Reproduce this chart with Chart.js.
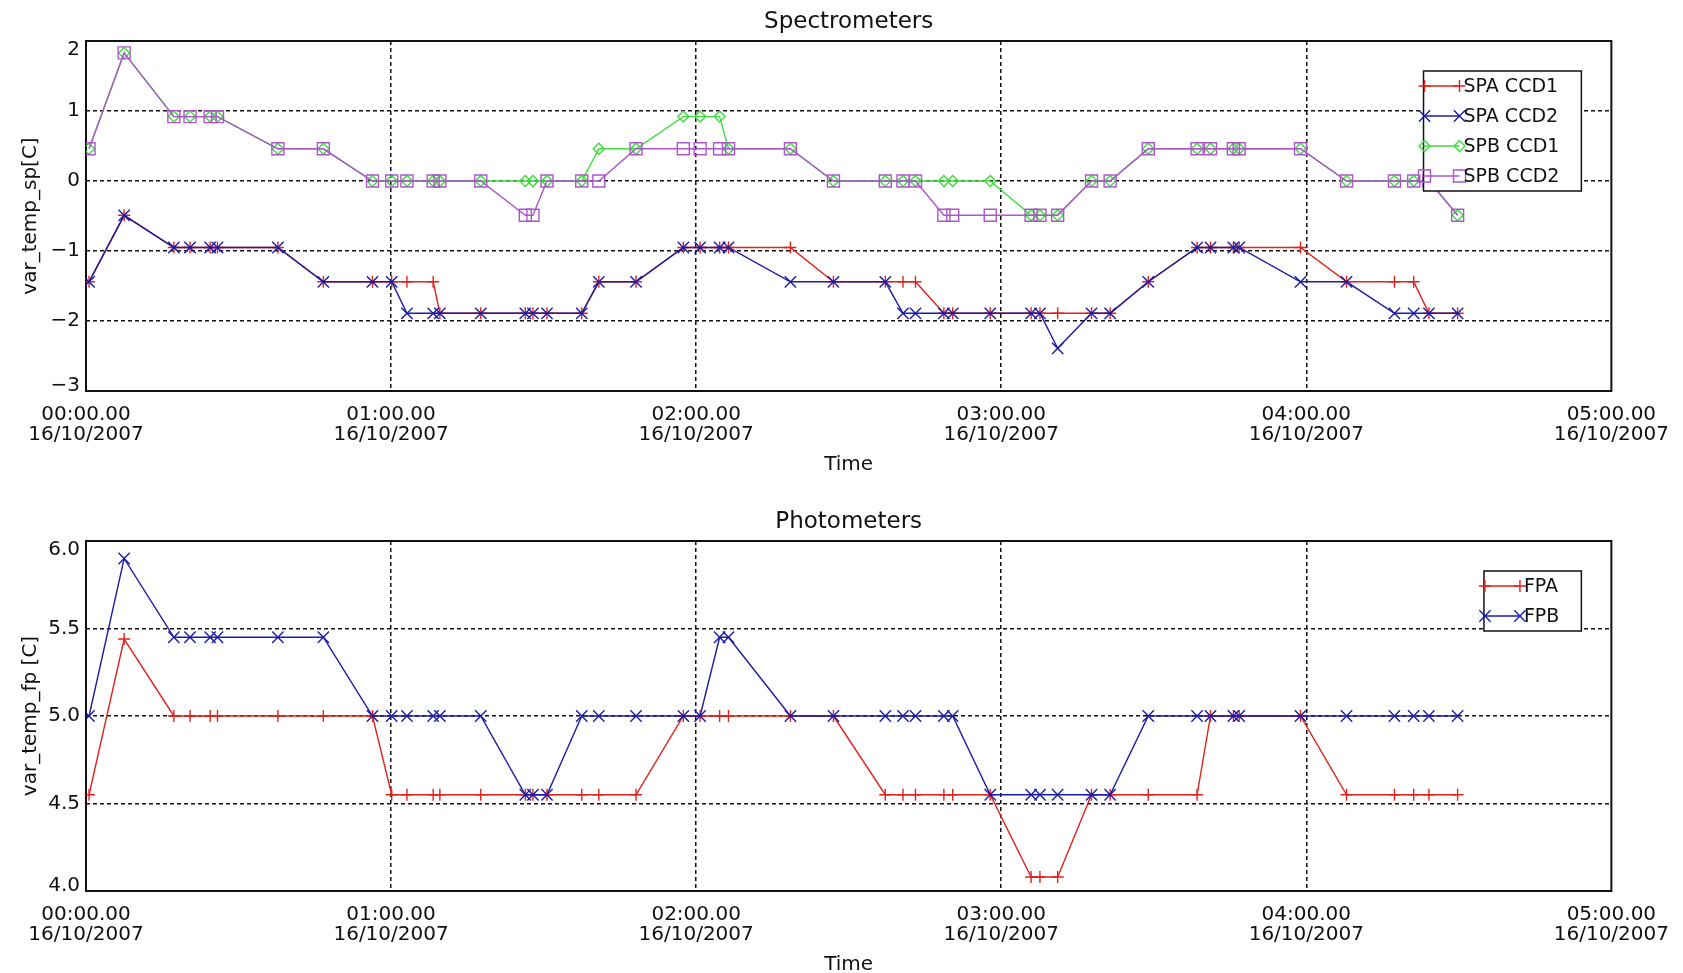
<!DOCTYPE html>
<html>
<head>
<meta charset="utf-8">
<title>Spectrometers / Photometers</title>
<script src="https://cdn.jsdelivr.net/npm/chart.js@4.4.1/dist/chart.umd.min.js"></script>
<style>
  html, body { margin: 0; padding: 0; background: #fff; overflow: hidden; }
  canvas { display: block; }
</style>
</head>
<body>
<canvas id="spChart" width="1683" height="500"></canvas>
<canvas id="fpChart" width="1683" height="500"></canvas>
<script>
// ---------- Data ---------- //
// sample times, hours after 00:00 on 16/10/2007 (shared by every series)
const times = [
  0.01, 0.125, 0.288, 0.341, 0.407, 0.431, 0.629, 0.778, 0.939, 1.002,
  1.052, 1.138, 1.16, 1.294, 1.44, 1.465, 1.511, 1.625, 1.681, 1.803,
  1.958, 2.013, 2.077, 2.106, 2.309, 2.45, 2.62, 2.678, 2.719, 2.812,
  2.841, 2.964, 3.098, 3.127, 3.185, 3.296, 3.357, 3.482, 3.642, 3.686,
  3.761, 3.78, 3.981, 4.132, 4.289, 4.352, 4.402, 4.496
];

// Spectrometers
const spaCcd1 = [
  -1.44, -0.49, -0.95, -0.95, -0.95, -0.95, -0.95, -1.44, -1.44, -1.44,
  -1.44, -1.44, -1.89, -1.89, -1.89, -1.89, -1.89, -1.89, -1.44, -1.44,
  -0.95, -0.95, -0.95, -0.95, -0.95, -1.44, -1.44, -1.44, -1.44, -1.89,
  -1.89, -1.89, -1.89, -1.89, -1.89, -1.89, -1.89, -1.44, -0.95, -0.95,
  -0.95, -0.95, -0.95, -1.44, -1.44, -1.44, -1.89, -1.89
];
const spaCcd2 = [
  -1.44, -0.49, -0.95, -0.95, -0.95, -0.95, -0.95, -1.44, -1.44, -1.44,
  -1.89, -1.89, -1.89, -1.89, -1.89, -1.89, -1.89, -1.89, -1.44, -1.44,
  -0.95, -0.95, -0.95, -0.95, -1.44, -1.44, -1.44, -1.89, -1.89, -1.89,
  -1.89, -1.89, -1.89, -1.89, -2.39, -1.89, -1.89, -1.44, -0.95, -0.95,
  -0.95, -0.95, -1.44, -1.44, -1.89, -1.89, -1.89, -1.89
];
const spbCcd1 = [
  0.46, 1.83, 0.92, 0.92, 0.92, 0.92, 0.46, 0.46, 0, 0,
  0, 0, 0, 0, 0, 0, 0, 0, 0.46, 0.46,
  0.92, 0.92, 0.92, 0.46, 0.46, 0, 0, 0, 0, 0,
  0, 0, -0.49, -0.49, -0.49, 0, 0, 0.46, 0.46, 0.46,
  0.46, 0.46, 0.46, 0, 0, 0, 0, -0.49
];
const spbCcd2 = [
  0.46, 1.83, 0.92, 0.92, 0.92, 0.92, 0.46, 0.46, 0, 0,
  0, 0, 0, 0, -0.49, -0.49, 0, 0, 0, 0.46,
  0.46, 0.46, 0.46, 0.46, 0.46, 0, 0, 0, 0, -0.49,
  -0.49, -0.49, -0.49, -0.49, -0.49, 0, 0, 0.46, 0.46, 0.46,
  0.46, 0.46, 0.46, 0, 0, 0, 0, -0.49
];

// Photometers
const fpa = [
  4.55, 5.44, 5.0, 5.0, 5.0, 5.0, 5.0, 5.0, 5.0, 4.55,
  4.55, 4.55, 4.55, 4.55, 4.55, 4.55, 4.55, 4.55, 4.55, 4.55,
  5.0, 5.0, 5.0, 5.0, 5.0, 5.0, 4.55, 4.55, 4.55, 4.55,
  4.55, 4.55, 4.08, 4.08, 4.08, 4.55, 4.55, 4.55, 4.55, 5.0,
  5.0, 5.0, 5.0, 4.55, 4.55, 4.55, 4.55, 4.55
];
const fpb = [
  5.0, 5.9, 5.45, 5.45, 5.45, 5.45, 5.45, 5.45, 5.0, 5.0,
  5.0, 5.0, 5.0, 5.0, 4.55, 4.55, 4.55, 5.0, 5.0, 5.0,
  5.0, 5.0, 5.45, 5.45, 5.0, 5.0, 5.0, 5.0, 5.0, 5.0,
  5.0, 4.55, 4.55, 4.55, 4.55, 4.55, 4.55, 5.0, 5.0, 5.0,
  5.0, 5.0, 5.0, 5.0, 5.0, 5.0, 5.0, 5.0
];

// axis ticks
const xTicks = [0, 1, 2, 3, 4, 5];
const xTickLabels = ["00:00.00", "01:00.00", "02:00.00", "03:00.00", "04:00.00", "05:00.00"];
const xDateLabel = "16/10/2007";
const spTicks = [-3, -2, -1, 0, 1, 2];
const fpTicks = [4.0, 4.5, 5.0, 5.5, 6.0];

// ---------- Styling ---------- //
const FONT = '"DejaVu Sans", "Liberation Sans", sans-serif';
const INK = "#111";
const RED = "#e0221d";
const BLUE = "#1c1ca4";
const GREEN = "#3edc3e";
const PURPLE = "#ad56ca";

const spSeries = [
  { label: "SPA CCD1", values: spaCcd1, color: RED, style: "cross", radius: 6 },
  { label: "SPA CCD2", values: spaCcd2, color: BLUE, style: "crossRot", radius: 8 },
  { label: "SPB CCD1", values: spbCcd1, color: GREEN, style: "rectRot", radius: 5.5 },
  { label: "SPB CCD2", values: spbCcd2, color: PURPLE, style: "rect", radius: 8.5 }
];
const fpSeries = [
  { label: "FPA", values: fpa, color: RED, style: "cross", radius: 6 },
  { label: "FPB", values: fpb, color: BLUE, style: "crossRot", radius: 8 }
];

function markerAt(ctx, s, x, y) {
  ctx.save();
  ctx.strokeStyle = s.color;
  ctx.fillStyle = "rgba(0,0,0,0)";
  ctx.lineWidth = 1.4;
  Chart.helpers.drawPoint(ctx, { pointStyle: s.style, radius: s.radius, borderWidth: 1.4, rotation: 0 }, x, y);
  ctx.restore();
}

// box round the plot area, end labels of the y axis pulled inside, and legend
function makeFramePlugin(series, yTicks, yLabel) {
  return {
    id: "frame",
    beforeDatasetsDraw(chart) {
      const { ctx, chartArea: a } = chart;
      ctx.save();
      ctx.strokeStyle = INK;
      ctx.lineWidth = 2;
      ctx.strokeRect(a.left, a.top, a.right - a.left, a.bottom - a.top);

      // first and last y labels sit a little inside the frame, like the original
      const yScale = chart.scales.y;
      ctx.font = "20px " + FONT;
      ctx.fillStyle = INK;
      ctx.textAlign = "right";
      ctx.textBaseline = "middle";
      const first = yTicks[0], last = yTicks[yTicks.length - 1];
      ctx.fillText(yLabel(first), a.left - 6, yScale.getPixelForValue(first) - 5);
      ctx.fillText(yLabel(last), a.left - 6, yScale.getPixelForValue(last) + 9);
      ctx.restore();
    },
    afterDatasetsDraw(chart) {
      const { ctx, chartArea: a } = chart;
      const sampleLen = 36, gap = 4, padRight = 22, rowH = 30;
      ctx.save();
      ctx.font = "19px " + FONT;
      const textW = Math.max(...series.map(s => ctx.measureText(s.label).width));
      const boxW = sampleLen + gap + textW + padRight;
      const boxH = rowH * series.length;
      const right = a.right - 30;
      const top = a.top + 30;
      const left = right - boxW;
      ctx.fillStyle = "#fff";
      ctx.fillRect(left, top, boxW, boxH);
      ctx.strokeStyle = INK;
      ctx.lineWidth = 1.5;
      ctx.strokeRect(left, top, boxW, boxH);

      series.forEach((s, i) => {
        const y = top + 15 + i * rowH;
        ctx.strokeStyle = s.color;
        ctx.lineWidth = 1.4;
        ctx.beginPath();
        ctx.moveTo(left, y);
        ctx.lineTo(left + sampleLen, y);
        ctx.stroke();
        markerAt(ctx, s, left + 1, y);
        markerAt(ctx, s, left + sampleLen, y);
        ctx.fillStyle = INK;
        ctx.textBaseline = "middle";
        ctx.textAlign = "left";
        ctx.fillText(s.label, left + sampleLen + gap, y + 1);
      });
      ctx.restore();
    }
  };
}

function buildChart(canvasId, title, yTitle, yTicks, yLabel, series) {
  const yMin = yTicks[0];
  const yMax = yTicks[yTicks.length - 1];
  const n = series.length;

  // no grid line on the frame itself
  const isEdgeX = v => v === xTicks[0] || v === xTicks[xTicks.length - 1];
  const isEdgeY = v => v === yMin || v === yMax;
  const gridColorX = c => isEdgeX(c.tick.value) ? "rgba(0,0,0,0)" : INK;
  const gridColorY = c => isEdgeY(c.tick.value) ? "rgba(0,0,0,0)" : INK;

  return new Chart(document.getElementById(canvasId), {
    type: "line",
    data: {
      datasets: series.map((s, i) => ({
        label: s.label,
        data: times.map((t, k) => ({ x: t, y: s.values[k] })),
        borderColor: s.color,
        borderWidth: 1.4,
        pointStyle: s.style,
        pointRadius: s.radius,
        pointHoverRadius: s.radius,
        pointBorderColor: s.color,
        pointBackgroundColor: "rgba(0,0,0,0)",
        pointBorderWidth: 1.4,
        tension: 0,
        order: n - 1 - i   // later series drawn on top, as in the original
      }))
    },
    options: {
      responsive: false,
      animation: false,
      events: [],
      layout: { padding: { left: 0, right: 66, top: 0, bottom: 0 } },
      plugins: {
        legend: { display: false },
        tooltip: { enabled: false },
        title: {
          display: true,
          text: title,
          fullSize: false,
          color: INK,
          font: { family: FONT, size: 23, weight: "normal", lineHeight: 1.2 },
          padding: { top: 8, bottom: 5.4 }
        }
      },
      scales: {
        x: {
          type: "linear",
          min: xTicks[0],
          max: xTicks[xTicks.length - 1],
          afterBuildTicks: sc => { sc.ticks = xTicks.map(v => ({ value: v })); },
          afterFit: sc => { sc.height = 109; },
          grid: { color: gridColorX, lineWidth: 1.5, drawTicks: false },
          border: { display: false, dash: [4, 3] },
          ticks: {
            color: INK,
            font: { family: FONT, size: 20, lineHeight: 1.0 },
            padding: 14,
            maxRotation: 0,
            autoSkip: false,
            callback: v => [xTickLabels[xTicks.indexOf(v)], xDateLabel]
          },
          title: {
            display: true,
            text: "Time",
            color: INK,
            font: { family: FONT, size: 20, lineHeight: 1.2 },
            padding: { top: 0, bottom: 23 }
          }
        },
        y: {
          min: yMin,
          max: yMax,
          afterBuildTicks: sc => { sc.ticks = yTicks.map(v => ({ value: v })); },
          afterFit: sc => { sc.width = 86; },
          grid: { color: gridColorY, lineWidth: 1.5, drawTicks: false },
          border: { display: false, dash: [4, 3] },
          ticks: {
            color: c => isEdgeY(c.tick.value) ? "rgba(0,0,0,0)" : INK,
            font: { family: FONT, size: 20 },
            padding: 6,
            callback: yLabel
          },
          title: {
            display: true,
            text: yTitle,
            color: INK,
            font: { family: FONT, size: 20, lineHeight: 1.2 },
            padding: { top: 19, bottom: 0 }
          }
        }
      }
    },
    plugins: [makeFramePlugin(series, yTicks, yLabel)]
  });
}

const spLabel = v => (v < 0 ? "\u2212" + Math.abs(v) : String(v));
const fpLabel = v => v.toFixed(1);

buildChart("spChart", "Spectrometers", "var_temp_sp[C]", spTicks, spLabel, spSeries);
buildChart("fpChart", "Photometers", "var_temp_fp [C]", fpTicks, fpLabel, fpSeries);
</script>
</body>
</html>
